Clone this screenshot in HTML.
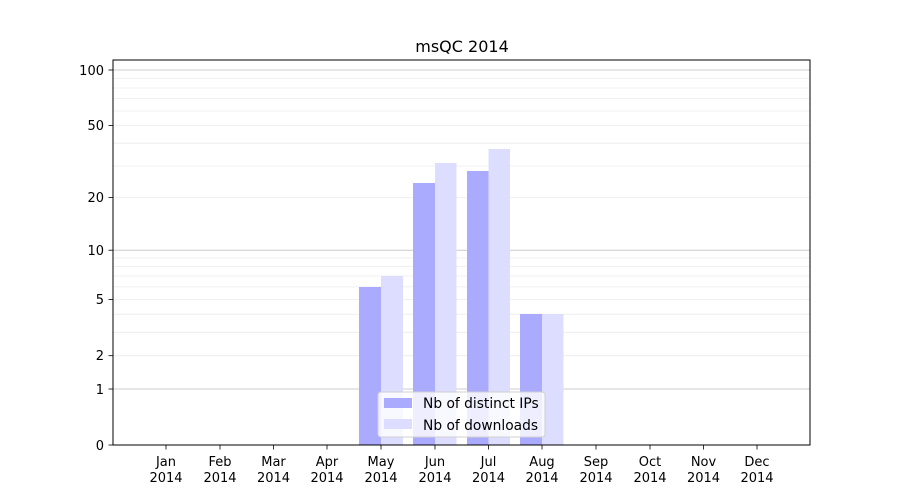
<!DOCTYPE html>
<html><head><meta charset="utf-8"><style>body{margin:0;background:#fff}svg{display:block}text{font-family:"DejaVu Sans","Liberation Sans",sans-serif;fill:#000}</style></head><body>
<svg width="900" height="500" viewBox="0 0 900 500" xmlns="http://www.w3.org/2000/svg">
<rect width="900" height="500" fill="#fff"/>
<g stroke="#ebebeb" stroke-width="0.8">
<line x1="113" x2="810" y1="355.7" y2="355.7"/><line x1="113" x2="810" y1="332.3" y2="332.3"/><line x1="113" x2="810" y1="314.2" y2="314.2"/><line x1="113" x2="810" y1="299.4" y2="299.4"/><line x1="113" x2="810" y1="286.9" y2="286.9"/><line x1="113" x2="810" y1="276" y2="276"/><line x1="113" x2="810" y1="266.5" y2="266.5"/><line x1="113" x2="810" y1="257.9" y2="257.9"/>
<line x1="113" x2="810" y1="197.6" y2="197.6"/><line x1="113" x2="810" y1="166" y2="166"/><line x1="113" x2="810" y1="143.2" y2="143.2"/><line x1="113" x2="810" y1="125.5" y2="125.5"/><line x1="113" x2="810" y1="111" y2="111"/><line x1="113" x2="810" y1="98.6" y2="98.6"/><line x1="113" x2="810" y1="88" y2="88"/><line x1="113" x2="810" y1="78.5" y2="78.5"/>
</g>
<g stroke="#cccccc" stroke-width="1">
<line x1="113" x2="810" y1="389" y2="389"/><line x1="113" x2="810" y1="250.2" y2="250.2"/><line x1="113" x2="810" y1="70" y2="70"/>
</g>
<g fill="#aaaaff">
<rect x="359" y="287" width="22" height="158"/><rect x="413" y="183" width="22" height="262"/><rect x="467" y="171" width="21.5" height="274"/><rect x="520" y="314" width="22" height="131"/>
</g>
<g fill="#ddddff">
<rect x="381" y="276" width="22" height="169"/><rect x="435" y="163" width="21.5" height="282"/><rect x="488.5" y="149" width="21.5" height="296"/><rect x="542" y="314" width="21.5" height="131"/>
</g>
<rect x="113" y="60" width="697" height="385" fill="none" stroke="#000" stroke-width="1"/>
<g stroke="#000" stroke-width="0.8">
<line x1="108.5" x2="113" y1="445" y2="445"/><line x1="108.5" x2="113" y1="389" y2="389"/><line x1="108.5" x2="113" y1="355.7" y2="355.7"/><line x1="108.5" x2="113" y1="299.4" y2="299.4"/><line x1="108.5" x2="113" y1="250.2" y2="250.2"/><line x1="108.5" x2="113" y1="197.6" y2="197.6"/><line x1="108.5" x2="113" y1="125.5" y2="125.5"/><line x1="108.5" x2="113" y1="70" y2="70"/>
</g>
<g font-size="13" text-anchor="end">
<text x="104" y="450">0</text><text x="104" y="394">1</text><text x="104" y="360">2</text><text x="104" y="304">5</text><text x="104" y="255">10</text><text x="104" y="202">20</text><text x="104" y="130">50</text><text x="104" y="75">100</text>
</g>
<g stroke="#000" stroke-width="0.8">
<line x1="166" x2="166" y1="445" y2="449.5"/><line x1="220" x2="220" y1="445" y2="449.5"/><line x1="273.5" x2="273.5" y1="445" y2="449.5"/><line x1="327" x2="327" y1="445" y2="449.5"/><line x1="381" x2="381" y1="445" y2="449.5"/><line x1="435" x2="435" y1="445" y2="449.5"/><line x1="488.5" x2="488.5" y1="445" y2="449.5"/><line x1="542" x2="542" y1="445" y2="449.5"/><line x1="596" x2="596" y1="445" y2="449.5"/><line x1="650" x2="650" y1="445" y2="449.5"/><line x1="703.5" x2="703.5" y1="445" y2="449.5"/><line x1="757" x2="757" y1="445" y2="449.5"/>
</g>
<g font-size="13" text-anchor="middle">
<text x="166" y="466">Jan</text><text x="166" y="482">2014</text>
<text x="220" y="466">Feb</text><text x="220" y="482">2014</text>
<text x="273.5" y="466">Mar</text><text x="273.5" y="482">2014</text>
<text x="327" y="466">Apr</text><text x="327" y="482">2014</text>
<text x="381" y="466">May</text><text x="381" y="482">2014</text>
<text x="435" y="466">Jun</text><text x="435" y="482">2014</text>
<text x="488.5" y="466">Jul</text><text x="488.5" y="482">2014</text>
<text x="542" y="466">Aug</text><text x="542" y="482">2014</text>
<text x="596" y="466">Sep</text><text x="596" y="482">2014</text>
<text x="650" y="466">Oct</text><text x="650" y="482">2014</text>
<text x="703.5" y="466">Nov</text><text x="703.5" y="482">2014</text>
<text x="757" y="466">Dec</text><text x="757" y="482">2014</text>
</g>
<text x="462" y="52" font-size="16" text-anchor="middle">msQC 2014</text>
<rect x="378" y="392" width="167" height="45" rx="3" fill="#fff" fill-opacity="0.8" stroke="#d0d0d0"/>
<rect x="384" y="398" width="28" height="10" fill="#aaaaff"/>
<rect x="384" y="419" width="28" height="10" fill="#ddddff"/>
<text x="423" y="408" font-size="13.8">Nb of distinct IPs</text>
<text x="423" y="430" font-size="13.8">Nb of downloads</text>
</svg>
</body></html>
